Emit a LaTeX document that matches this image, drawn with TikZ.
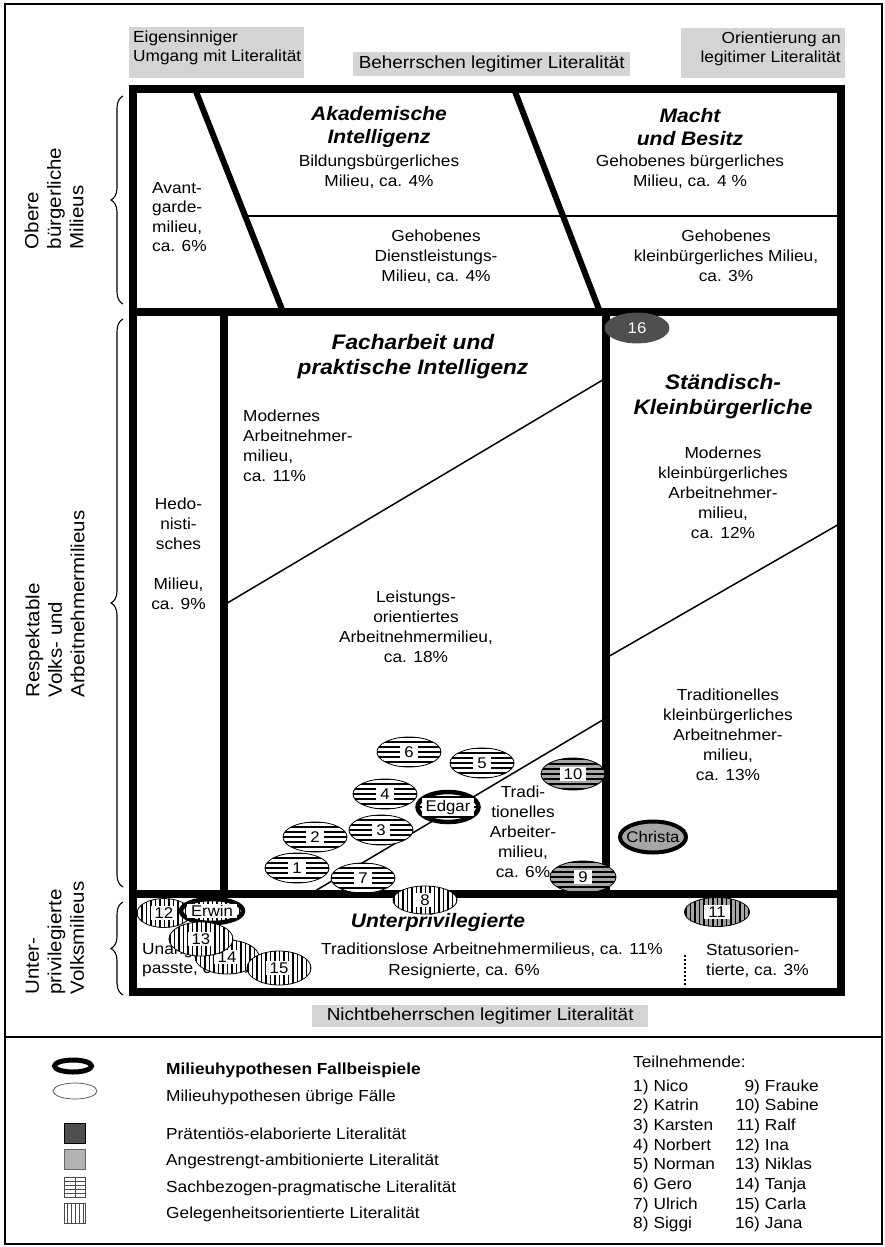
\documentclass[tikz,border=0pt]{standalone}
\usepackage{fontspec}
\setmainfont{Liberation Sans}[FakeStretch=1.08]
\usetikzlibrary{shapes.geometric,decorations.pathreplacing}
\definecolor{lblgray}{HTML}{D4D4D4}
\definecolor{midgray}{HTML}{A6A6A6}
\definecolor{darkfill}{HTML}{4F4F4F}
\newcommand\fsz[2]{\fontsize{#1}{#2}\selectfont}
\begin{document}
\begin{tikzpicture}[x=1pt,y=-1pt,
  txt/.style={inner sep=0pt, font=\fsz{16}{20}, align=center},
  txtl/.style={inner sep=0pt, font=\fsz{16}{20}, align=left, anchor=west},
  ttl/.style={inner sep=0pt, font=\fsz{19.5}{23}\bfseries\itshape, align=center},
  ttlb/.style={inner sep=0pt, font=\fsz{21}{25}\bfseries\itshape, align=center},
  side/.style={inner sep=0pt, font=\fsz{19}{22.5}, align=left, rotate=90},
  lbox/.style={draw=none, fill=lblgray, inner sep=0pt, anchor=north west},
  heavy/.style={line width=7.5pt},
  slant/.style={line width=6pt},
  thinl/.style={line width=1.5pt},
  bracel/.style={line width=1.1pt, decorate, decoration={brace, amplitude=12pt}},
  ell/.style={ellipse, draw=black, line width=0.8pt, inner sep=0pt, fill=white, minimum width=64pt, minimum height=30pt},
  hh/.style={path picture={\foreach \k in {-25,-20,...,25}{\draw[line width=1.4pt] ([yshift=\k pt]path picture bounding box.west) -- ([yshift=\k pt]path picture bounding box.east);}}},
  vh/.style={path picture={\foreach \k in {-40,-35.5,...,40}{\draw[line width=1.2pt] ([xshift=\k pt]path picture bounding box.north) -- ([xshift=\k pt]path picture bounding box.south);}}},
  grayell/.style={fill=midgray},
  casebd/.style={line width=4.5pt},
  numbox/.style={fill=white, inner xsep=4pt, inner ysep=1.5pt, font=\fsz{15.5}{16}},
  lgd/.style={inner sep=0pt, anchor=west, font=\fsz{16}{19}},
  sq/.style={draw=black, line width=0.6pt, inner sep=0pt, minimum width=21pt, minimum height=20pt}
]
\useasboundingbox (0,0) rectangle (885,1247);
\fill[white] (0,0) rectangle (885,1247);

% outer frames
\draw[line width=2.2pt] (5,4) rectangle (882,1244);
\draw[line width=2.6pt] (5,1037) -- (882,1037);

% top labels
\node[lbox, minimum width=175pt, minimum height=51pt] (lab1) at (129,27) {};
\node[txtl, font=\fsz{16}{19}] (lab1t) at (133,47.5) {Eigensinniger\\Umgang mit Literalität};
\node[lbox, minimum width=277pt, minimum height=24pt] (lab2) at (353,52) {};
\node[txt, font=\fsz{17.5}{20}] (lab2t) at (lab2) {Beherrschen legitimer Literalität};
\node[lbox, minimum width=164pt, minimum height=50pt] (lab3) at (681,28) {};
\node[txt, font=\fsz{16}{19}, align=right, anchor=east] (lab3t) at (841,48.5) {Orientierung an\\legitimer Literalität};
\node[lbox, minimum width=336pt, minimum height=22pt] (lab4) at (312,1005) {};
\node[txt, font=\fsz{17.5}{20}] (lab4t) at (lab4) {Nichtbeherrschen legitimer Literalität};

% side labels and braces
\node[side] (sObere) at (54,198.5) {Obere\\bürgerliche\\Milieus};
\node[side] (sResp) at (55,604) {Respektable\\Volks- und\\Arbeitnehmermilieus};
\node[side] (sUnter) at (55,938) {Unter-\\privilegierte\\Volksmilieus};
\coordinate (bO1) at (123,304); \coordinate (bO2) at (123,96);
\coordinate (bR1) at (123,887); \coordinate (bR2) at (123,319);
\coordinate (bU1) at (123,995); \coordinate (bU2) at (123,902);
\draw[bracel] (bO1) -- (bO2);
\draw[bracel] (bR1) -- (bR2);
\draw[bracel] (bU1) -- (bU2);

% thin inner lines
\draw[thinl] (245,216) -- (841,216);
\draw[thinl] (224,605) -- (606,378);
\draw[thinl] (310,894) -- (606,718);
\draw[thinl] (606,658) -- (841,523);
\draw[line width=2.5pt, dash pattern=on 2pt off 2pt] (685,955) -- (685,987);

% heavy frame lines
\draw[heavy] (133,89) rectangle (841,992);
\draw[heavy] (133,312) -- (841,312);
\draw[heavy] (133,894) -- (841,894);
\draw[heavy] (224,312) -- (224,894);
\draw[heavy] (606,312) -- (606,894);
\draw[slant] (195,89) -- (283,312);
\draw[slant] (514,89) -- (600,312);

% texts upper milieus
\node[ttl] (tAkad) at (379,127) {Akademische\\Intelligenz};
\node[txt] (tBild) at (379,172) {Bildungsbürgerliches\\Milieu, ca. 4\%};
\node[ttl] (tMacht) at (690,127) {Macht\\und Besitz};
\node[txt] (tGehB) at (690,172) {Gehobenes bürgerliches\\Milieu, ca. 4 \%};
\node[txtl, font=\fsz{16}{19.5}] (tAvant) at (152,217) {Avant-\\garde-\\milieu,\\ca. 6\%};
\node[txt] (tDienst) at (436,257) {Gehobenes\\Dienstleistungs-\\Milieu, ca. 4\%};
\node[txt] (tKleinG) at (726,256) {Gehobenes\\kleinbürgerliches Milieu,\\ca. 3\%};

% texts respectable milieus
\node[ttlb] (tFach) at (413,357) {Facharbeit und\\praktische Intelligenz};
\node[txtl] (tModA) at (243,446) {Modernes\\Arbeitnehmer-\\milieu,\\ca. 11\%};
\node[txt] (tHedo) at (178.5,554) {Hedo-\\nisti-\\sches\\[20pt]Milieu,\\ca. 9\%};
\node[txt] (tLeist) at (416,627) {Leistungs-\\orientiertes\\Arbeitnehmermilieu,\\ca. 18\%};
\node[txt] (tTradA) at (523,832) {Tradi-\\tionelles\\Arbeiter-\\milieu,\\ca. 6\%};
\node[ttlb] (tStand) at (723,397) {Ständisch-\\Kleinbürgerliche};
\node[txt] (tModK) at (723,493) {Modernes\\kleinbürgerliches\\Arbeitnehmer-\\milieu,\\ca. 12\%};
\node[txt] (tTradK) at (728,735) {Traditionelles\\kleinbürgerliches\\Arbeitnehmer-\\milieu,\\ca. 13\%};

% texts underprivileged
\node[ttl] (tUnter) at (438,922) {Unterprivilegierte};
\node[txt] (tTradL) at (492,950) {Traditionslose Arbeitnehmermilieus, ca. 11\%};
\node[txt] (tResig) at (464,971) {Resignierte, ca. 6\%};
\node[txtl, font=\fsz{16}{19}] (tUnang) at (142,960) {Unange-\\passte, ca. 2\%};
\node[txtl] (tStatus) at (706,961) {Statusorien-\\tierte, ca. 3\%};

% case ellipses
\node[ell, hh] (e6) at (409,752) {}; \node[numbox] (n6) at (e6) {6};
\node[ell, hh] (e5) at (482,763) {}; \node[numbox] (n5) at (e5) {5};
\node[ell, hh] (e4) at (385,794) {}; \node[numbox] (n4) at (e4) {4};
\node[ell, hh] (e2) at (315,837) {}; \node[numbox] (n2) at (e2) {2};
\node[ell, hh] (e1) at (297,868) {}; \node[numbox] (n1) at (e1) {1};
\node[ell, hh] (e3) at (381,830) {}; \node[numbox] (n3) at (e3) {3};
\node[ell, hh] (e7) at (363,878) {}; \node[numbox] (n7) at (e7) {7};
\node[ell, hh, casebd, minimum width=61pt, minimum height=30pt] (eEdgar) at (448,807) {}; \node[numbox] (nEdgar) at (eEdgar) {Edgar};
\node[ell, hh, grayell, minimum height=32pt] (e10) at (573,774) {}; \node[numbox] (n10) at (e10) {10};
\node[ell, hh, grayell, minimum width=66pt, minimum height=32pt] (e9) at (583,877) {}; \node[numbox] (n9) at (e9) {9};
\node[ell, hh, vh, minimum height=28pt] (e8) at (425,900) {}; \node[numbox] (n8) at (e8) {8};
\node[ell, vh, grayell, minimum width=65pt, minimum height=29pt] (e11) at (717,912) {}; \node[numbox] (n11) at (e11) {11};
\node[ell, vh, minimum width=54pt, minimum height=29pt] (e12) at (164,913) {}; \node[numbox] (n12) at (e12) {12};
\node[ell, vh, casebd, minimum width=62pt, minimum height=24pt] (eErwin) at (212,911) {}; \node[numbox] (nErwin) at (eErwin) {Erwin};
\node[ell, vh, minimum height=34pt] (e14) at (227,957) {}; \node[numbox] (n14) at (e14) {14};
\node[ell, vh, minimum height=34pt] (e13) at (201,939) {}; \node[numbox] (n13) at (e13) {13};
\node[ell, vh, minimum height=34pt] (e15) at (279,968) {}; \node[numbox] (n15) at (e15) {15};
\node[ell, fill=darkfill, draw=darkfill, minimum width=64pt, minimum height=30pt] (e16) at (637,328) {};
\node[font=\fsz{15.5}{16}, text=white, inner sep=0pt] (n16) at (e16) {16};
\node[ell, grayell, line width=4pt, minimum width=66pt, minimum height=31pt] (eChrista) at (653,837) {};
\node[font=\fsz{15.5}{16}, inner sep=0pt] (nChrista) at (eChrista) {Christa};

% legend
\node[ellipse, draw=black, line width=5pt, inner sep=0pt, minimum width=37pt, minimum height=12pt] (lgE1) at (73,1066) {};
\node[ellipse, draw=black!70, line width=0.7pt, inner sep=0pt, minimum width=44pt, minimum height=16pt] (lgE2) at (75,1091) {};
\node[lgd, font=\fsz{16}{19}\bfseries] (lg1) at (166,1070) {Milieuhypothesen Fallbeispiele};
\node[lgd] (lg2) at (166,1097) {Milieuhypothesen übrige Fälle};
\node[sq, fill=darkfill] (sq1) at (75,1133) {};
\node[sq, fill=midgray!85, draw=black!60] (sq2) at (75,1159) {};
\node[sq, draw=black!70, path picture={\foreach \k in {-6,-2,2,6}{\draw[line width=0.7pt] ([yshift=\k pt]path picture bounding box.west) -- ([yshift=\k pt]path picture bounding box.east);}\draw[line width=0.7pt] (path picture bounding box.north) -- (path picture bounding box.south);}] (sq3) at (75,1187) {};
\node[sq, draw=black!70, path picture={\foreach \k in {-8,-4,0,4,8}{\draw[line width=0.7pt] ([xshift=\k pt]path picture bounding box.north) -- ([xshift=\k pt]path picture bounding box.south);}}] (sq4) at (75,1213) {};
\node[lgd] (lg3) at (166,1134) {Prätentiös-elaborierte Literalität};
\node[lgd] (lg4) at (166,1161) {Angestrengt-ambitionierte Literalität};
\node[lgd] (lg5) at (166,1188) {Sachbezogen-pragmatische Literalität};
\node[lgd] (lg6) at (166,1214) {Gelegenheitsorientierte Literalität};

\node[lgd] (tnh) at (633,1062) {Teilnehmende:};
\node[anchor=north west, inner sep=0pt, font=\fsz{16}{19.7}] (tnl) at (633,1077) {%
\begin{tabular}{@{}r@{\hspace{5pt}}l@{\hspace{20pt}}r@{\hspace{5pt}}l@{}}
1) & Nico & 9) & Frauke\\
2) & Katrin & 10) & Sabine\\
3) & Karsten & 11) & Ralf\\
4) & Norbert & 12) & Ina\\
5) & Norman & 13) & Niklas\\
6) & Gero & 14) & Tanja\\
7) & Ulrich & 15) & Carla\\
8) & Siggi & 16) & Jana
\end{tabular}};
\end{tikzpicture}
\end{document}
